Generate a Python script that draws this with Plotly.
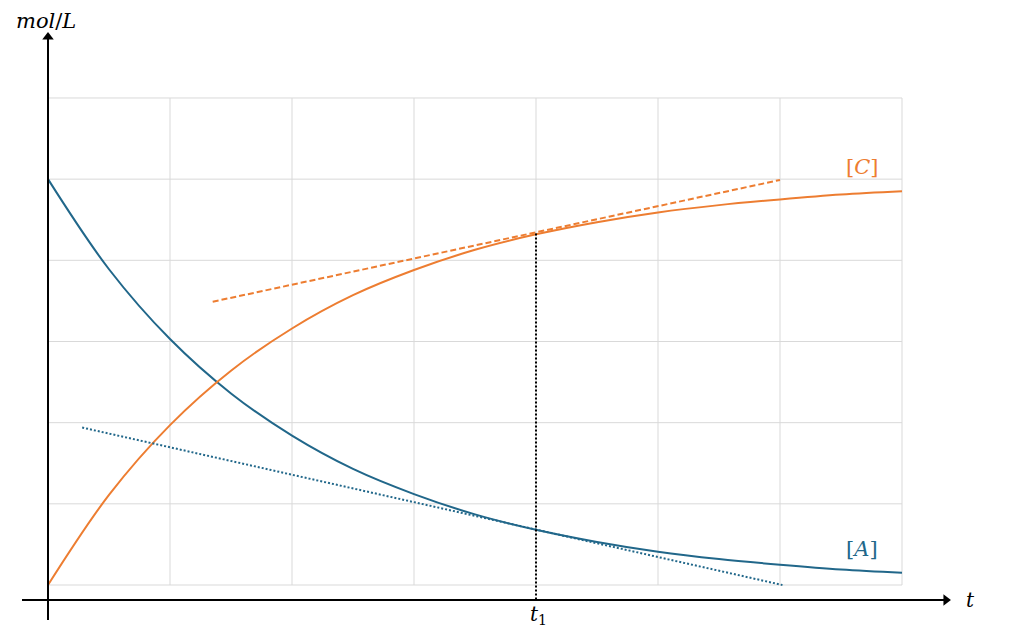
import plotly.graph_objects as go

# time grid (units of grid cells)
t = [0, 0.5, 1, 1.5, 2, 2.5, 3, 3.5, 4, 4.5, 5, 5.5, 6, 6.5, 7]
conc_A = [5.0, 3.89, 3.03, 2.36, 1.84, 1.43, 1.12, 0.87, 0.68, 0.53, 0.41, 0.32, 0.25, 0.19, 0.15]
conc_C = [0.0, 1.11, 1.97, 2.64, 3.16, 3.57, 3.88, 4.13, 4.32, 4.47, 4.59, 4.68, 4.75, 4.81, 4.85]

tangent_C_t = [1.35, 6.0]
tangent_C_y = [3.49, 4.99]
tangent_A_t = [0.28, 6.02]
tangent_A_y = [1.94, 0.0]

t1 = 4.0
t1_C = 4.33
axis_y = -0.185

grid_x = [0, 1, 2, 3, 4, 5, 6, 7]
grid_y = [0, 1, 2, 3, 4, 5, 6]

BLUE = "#21678A"
ORANGE = "#ED7D31"
GRID = "#D9D9D9"
FONT = "DejaVu Serif"

fig = go.Figure()

shapes = []
for gx in grid_x:
    shapes.append(dict(type="line", x0=gx, x1=gx, y0=0, y1=6, xref="x", yref="y",
                       line=dict(color=GRID, width=1), layer="below"))
for gy in grid_y:
    shapes.append(dict(type="line", x0=0, x1=7, y0=gy, y1=gy, xref="x", yref="y",
                       line=dict(color=GRID, width=1), layer="below"))

fig.add_trace(go.Scatter(x=t, y=conc_A, mode="lines", line=dict(color=BLUE, width=2, shape="spline"),
                         hoverinfo="skip", showlegend=False))
fig.add_trace(go.Scatter(x=t, y=conc_C, mode="lines", line=dict(color=ORANGE, width=2, shape="spline"),
                         hoverinfo="skip", showlegend=False))
fig.add_trace(go.Scatter(x=tangent_C_t, y=tangent_C_y, mode="lines",
                         line=dict(color=ORANGE, width=2, dash="6px,3px"), hoverinfo="skip", showlegend=False))
fig.add_trace(go.Scatter(x=tangent_A_t, y=tangent_A_y, mode="lines",
                         line=dict(color=BLUE, width=2, dash="2px,2px"), hoverinfo="skip", showlegend=False))
fig.add_trace(go.Scatter(x=[t1, t1], y=[t1_C, axis_y], mode="lines",
                         line=dict(color="black", width=2, dash="2px,2px"), hoverinfo="skip", showlegend=False))

# axis lines
shapes.append(dict(type="line", x0=-0.213, x1=7.36, y0=axis_y, y1=axis_y, xref="x", yref="y",
                   line=dict(color="black", width=2)))
shapes.append(dict(type="line", x0=0, x1=0, y0=-0.43, y1=6.74, xref="x", yref="y",
                   line=dict(color="black", width=2)))

# arrow heads
fig.add_trace(go.Scatter(x=[7.36], y=[axis_y], mode="markers",
                         marker=dict(symbol="triangle-right", size=10, color="black", line=dict(width=0)),
                         hoverinfo="skip", showlegend=False))
fig.add_trace(go.Scatter(x=[0], y=[6.75], mode="markers",
                         marker=dict(symbol="triangle-up", size=10, color="black", line=dict(width=0)),
                         hoverinfo="skip", showlegend=False))

annotations = [
    dict(x=6.67, y=5.15, text="[<i>C</i>]", showarrow=False, font=dict(family=FONT, size=21, color=ORANGE)),
    dict(x=6.67, y=0.44, text="[<i>A</i>]", showarrow=False, font=dict(family=FONT, size=21, color=BLUE)),
    dict(x=4.02, y=-0.37, text="<i>t</i><sub>1</sub>", showarrow=False, font=dict(family=FONT, size=20, color="black")),
    dict(x=7.56, y=-0.185, text="<i>t</i>", showarrow=False, font=dict(family=FONT, size=20, color="black")),
    dict(x=-0.016, y=6.95, text="<i>mol</i>/<i>L</i>", showarrow=False, font=dict(family=FONT, size=21, color="black")),
]

OFF = 8  # page body margin in pixels
fig.update_layout(
    width=1024, height=644,
    margin=dict(l=0, r=0, t=0, b=0),
    paper_bgcolor="white", plot_bgcolor="white",
    xaxis=dict(range=[-(48 - OFF) / 122, (1024 - 48 + OFF) / 122], visible=False, showgrid=False, zeroline=False),
    yaxis=dict(range=[-(644 - 585 + OFF) / 81.17, (585 - OFF) / 81.17], visible=False, showgrid=False, zeroline=False),
    shapes=shapes, annotations=annotations,
)

fig.write_html("out.html", config={"displayModeBar": False})
